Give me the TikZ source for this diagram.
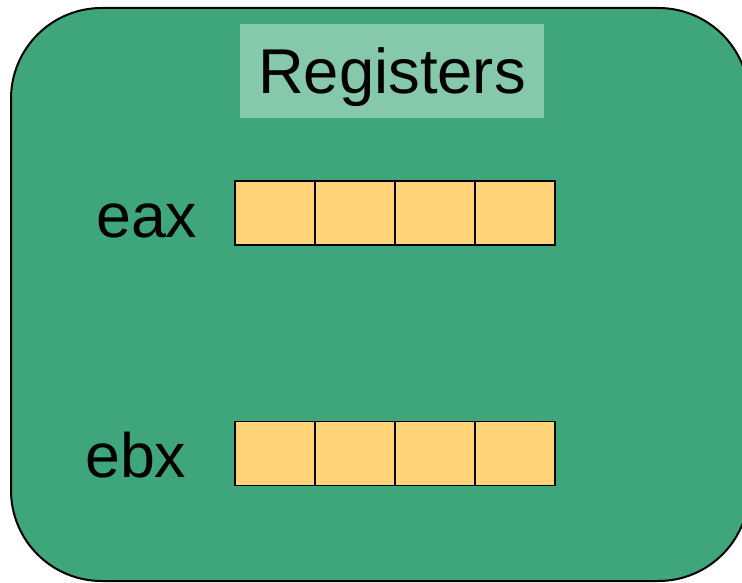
\documentclass[tikz,border=0pt]{standalone}
\usepackage{fontspec}
\setmainfont{Liberation Sans}
\usetikzlibrary{positioning}

\definecolor{boxgreen}{RGB}{62,166,122}
\definecolor{titlegreen}{RGB}{134,201,170}
\definecolor{cellyellow}{RGB}{255,212,121}

\tikzset{
  regcell/.style={draw=black,line width=1.1pt,fill=cellyellow,outer sep=0pt,
    minimum width=60pt,minimum height=48pt,inner sep=0pt},
  reglabel/.style={inner sep=0pt,anchor=base west,font=\fontsize{47}{56}\selectfont}
}

\begin{document}
\begin{tikzpicture}[x=0.75pt,y=0.75pt]
\useasboundingbox (0,0) rectangle (742,582);

% outer block, runs past the right edge
\begin{scope}
\clip (0,0) rectangle (742,582);
\draw[line width=1.5pt,fill=boxgreen,rounded corners=68pt] (11,1) rectangle (749,574);
\end{scope}

% heading
\node[fill=titlegreen,minimum width=228pt,minimum height=70.5pt,inner sep=0pt,
  text height=34pt,text depth=0pt,font=\fontsize{47.5}{56}\selectfont] (title) at (392,511) {Registers};

% eax
\node[reglabel] (eax) at (96,344) {eax};
\node[regcell,anchor=west] (eax0) at (235,369) {};
\node[regcell,right=0pt of eax0] (eax1) {};
\node[regcell,right=0pt of eax1] (eax2) {};
\node[regcell,right=0pt of eax2] (eax3) {};

% ebx
\node[reglabel] (ebx) at (85,104) {ebx};
\node[regcell,anchor=west] (ebx0) at (235,128.5) {};
\node[regcell,right=0pt of ebx0] (ebx1) {};
\node[regcell,right=0pt of ebx1] (ebx2) {};
\node[regcell,right=0pt of ebx2] (ebx3) {};
\end{tikzpicture}
\end{document}
